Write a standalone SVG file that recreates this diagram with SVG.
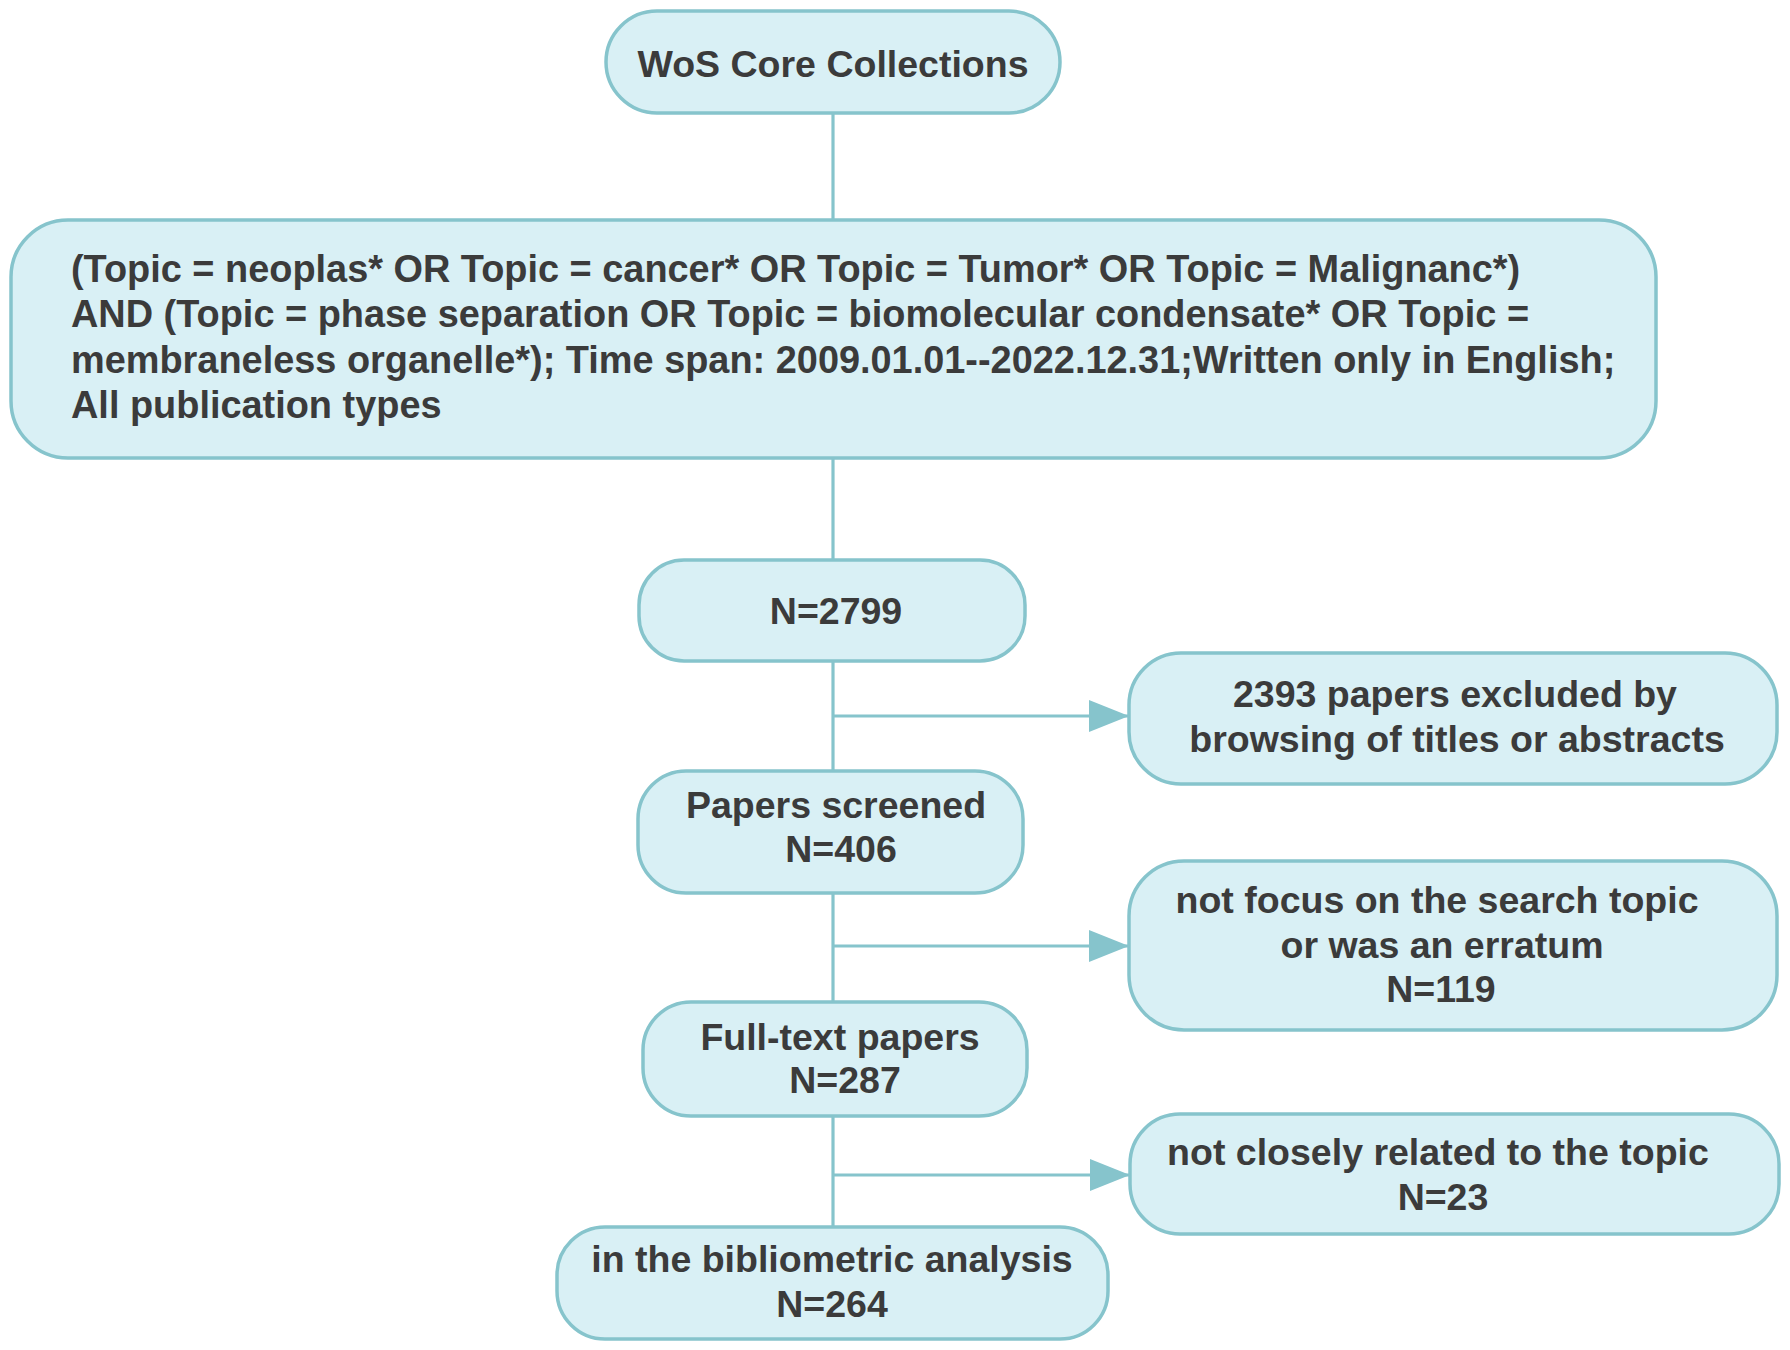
<svg xmlns="http://www.w3.org/2000/svg" width="1790" height="1350" viewBox="0 0 1790 1350">
<defs>
<style>
.box{fill:#d9f0f5;stroke:#86c4cc;stroke-width:3.5}
.t{font-family:"Liberation Sans",Arial,sans-serif;font-weight:bold;font-size:37.5px;fill:#3b3b3b;text-anchor:middle}
.tl{text-anchor:start;font-size:37.9px}
.ln{stroke:#86c4cc;stroke-width:3.2;fill:none}
</style>
<marker id="ah" markerWidth="12.5" markerHeight="10" refX="12.5" refY="5" orient="auto" markerUnits="strokeWidth">
<path d="M0,0 L12.5,5 L0,10 Z" fill="#86c4cc"/>
</marker>
</defs>
<rect width="1790" height="1350" fill="#ffffff"/>
<g id="connectors">
<line class="ln" x1="833" y1="113" x2="833" y2="220"/>
<line class="ln" x1="833" y1="458" x2="833" y2="560"/>
<line class="ln" x1="833" y1="661" x2="833" y2="771"/>
<line class="ln" x1="833" y1="893" x2="833" y2="1002"/>
<line class="ln" x1="833" y1="1116" x2="833" y2="1227"/>
<line class="ln" x1="833" y1="716" x2="1129" y2="716" marker-end="url(#ah)"/>
<line class="ln" x1="833" y1="946" x2="1129" y2="946" marker-end="url(#ah)"/>
<line class="ln" x1="833" y1="1175" x2="1130" y2="1175" marker-end="url(#ah)"/>
</g>
<g id="n1">
<rect class="box" x="606" y="11" width="454" height="102" rx="51"/>
<text class="t" x="833" y="77">WoS Core Collections</text>
</g>
<g id="n2">
<rect class="box" x="11" y="220" width="1645" height="238" rx="57"/>
<text class="t tl" x="71" y="282">(Topic = neoplas* OR Topic = cancer* OR Topic = Tumor* OR Topic = Malignanc*)</text>
<text class="t tl" x="71" y="327">AND (Topic = phase separation OR Topic = biomolecular condensate* OR Topic =</text>
<text class="t tl" x="71" y="373">membraneless organelle*); Time span: 2009.01.01--2022.12.31;Written only in English;</text>
<text class="t tl" x="71" y="418">All publication types</text>
</g>
<g id="n3">
<rect class="box" x="639" y="560" width="386" height="101" rx="45"/>
<text class="t" x="836" y="624">N=2799</text>
</g>
<g id="n4">
<rect class="box" x="1129" y="653" width="648" height="131" rx="52"/>
<text class="t" x="1455" y="707">2393 papers excluded by</text>
<text class="t" x="1457" y="752">browsing of titles or abstracts</text>
</g>
<g id="n5">
<rect class="box" x="638" y="771" width="385" height="122" rx="48"/>
<text class="t" x="836" y="818">Papers screened</text>
<text class="t" x="841" y="862">N=406</text>
</g>
<g id="n6">
<rect class="box" x="1129" y="861" width="648" height="169" rx="55"/>
<text class="t" x="1437" y="913">not focus on the search topic</text>
<text class="t" x="1442" y="958">or was an erratum</text>
<text class="t" x="1441" y="1002">N=119</text>
</g>
<g id="n7">
<rect class="box" x="643" y="1002" width="384" height="114" rx="48"/>
<text class="t" x="840" y="1050">Full-text papers</text>
<text class="t" x="845" y="1093">N=287</text>
</g>
<g id="n8">
<rect class="box" x="1130" y="1114" width="649" height="120" rx="50"/>
<text class="t" x="1438" y="1165">not closely related to the topic</text>
<text class="t" x="1443" y="1210">N=23</text>
</g>
<g id="n9">
<rect class="box" x="557" y="1227" width="551" height="112" rx="48"/>
<text class="t" x="832" y="1272">in the bibliometric analysis</text>
<text class="t" x="832" y="1317">N=264</text>
</g>
</svg>
